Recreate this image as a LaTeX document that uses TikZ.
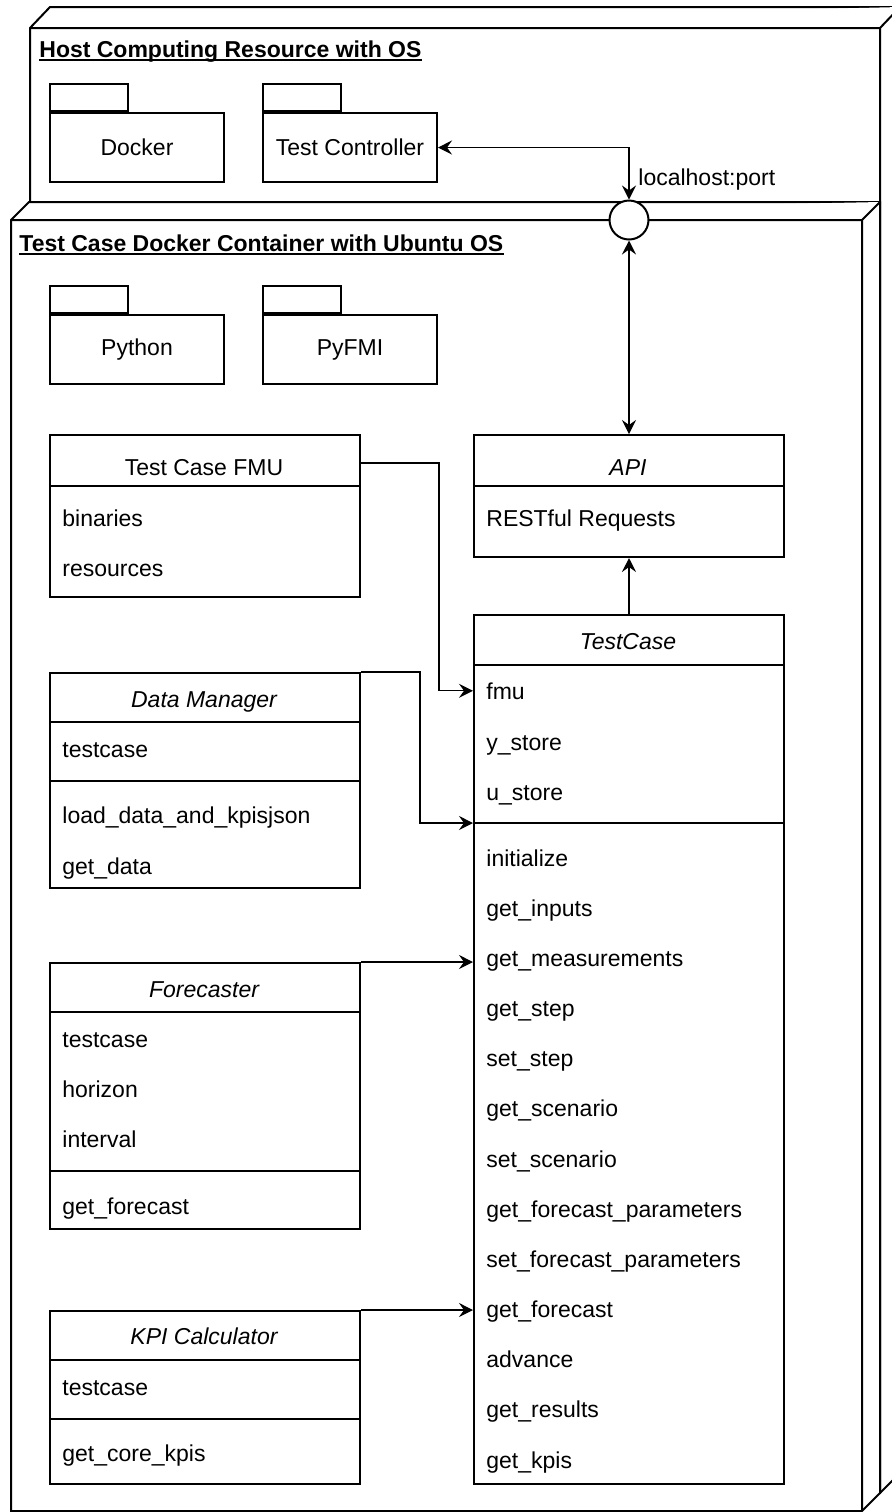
\documentclass[tikz,border=0pt]{standalone}
\usepackage{fontspec}
\setmainfont{Liberation Sans}
\usetikzlibrary{arrows.meta}
\newcommand\umlfont{\fontsize{11.5}{13.8}\selectfont}
\begin{document}
\begin{tikzpicture}[x=0.5pt,y=-0.5pt,font=\umlfont,
  >={Stealth[length=7pt,width=7pt,inset=2.5pt]},
  wall/.style={line width=1pt,fill=white},
  pkg/.style={draw,line width=1pt,fill=white,anchor=north west,minimum width=87pt,minimum height=34.5pt,inner sep=0},
  pkgtab/.style={draw,line width=1pt,fill=white,anchor=south west,minimum width=39pt,minimum height=13.5pt,inner sep=0},
  cls/.style={draw,line width=1pt,fill=white,anchor=north west,minimum width=155pt,inner sep=0},
  head/.style={anchor=base,inner sep=0,font=\umlfont\itshape},
  row/.style={anchor=base west,inner sep=0},
  title/.style={anchor=base west,inner sep=0,font=\umlfont\bfseries},
  bar/.style={line width=1pt},
  sep/.style={line width=0.6pt},
  link/.style={line width=0.6pt}]
\useasboundingbox (0,0) rectangle (892,1512);

\filldraw[wall] (30,28) -- (50,7) -- (900,7) -- (900,1473) -- (880,1493) -- (30,1493) -- cycle;
\draw[wall] (30,28) -- (880,28) -- (900,7) (880,28) -- (880,1493);
\node[title] (hosttitle) at (39,57) {Host Computing Resource with OS};
\draw[bar] ([yshift=-1.5pt]hosttitle.base west) -- ([yshift=-1.5pt]hosttitle.base east);

\node[pkg] (docker) at (49,112) {Docker};
\node[pkgtab] (dockertab) at (docker.north west) {};
\node[pkg] (tcpkg) at (262,112) {Test Controller};
\node[pkgtab] (tcpkgtab) at (tcpkg.north west) {};

\filldraw[wall] (11,220) -- (29,202) -- (880,202) -- (880,1493) -- (862,1511) -- (11,1511) -- cycle;
\draw[wall] (11,220) -- (862,220) -- (880,202) (862,220) -- (862,1511);
\node[title] (boxtitle) at (19,251) {Test Case Docker Container with Ubuntu OS};
\draw[bar] ([yshift=-1.5pt]boxtitle.base west) -- ([yshift=-1.5pt]boxtitle.base east);

\node[circle,draw,line width=1pt,fill=white,minimum size=19.5pt,inner sep=0] (port) at (629,220) {};
\node[row] (portlabel) at (638,185) {localhost:port};

\node[pkg] (python) at (49,314) {Python};
\node[pkgtab] (pythontab) at (python.north west) {};
\node[pkg] (pyfmi) at (262,314) {PyFMI};
\node[pkgtab] (pyfmitab) at (pyfmi.north west) {};

\node[cls,minimum height=81pt] (fmu) at (49,434) {};
\node[head,font=\umlfont] (fmuhead) at (204,475) {Test Case FMU};
\draw[bar] (49,486) -- (359,486);
\node[row] (fmubin) at (62,526) {binaries};
\node[row] (fmures) at (62,576) {resources};

\node[cls,minimum height=61pt] (api) at (473,434) {};
\node[head] (apihead) at (628,475) {API};
\draw[bar] (473,486) -- (783,486);
\node[row] (apirest) at (486,526) {RESTful Requests};

\node[cls,minimum height=434.5pt] (testcase) at (473,614) {};
\node[head] (tchead) at (628,649) {TestCase};
\draw[bar] (473,665) -- (783,665);
\node[row] (tcfmu) at (486,699) {fmu};
\node[row] (tcy) at (486,750) {y\_store};
\node[row] (tcu) at (486,800) {u\_store};
\coordinate (tcsep) at (473,823);
\draw[sep] (tcsep) -- (783,823);
\foreach \m [count=\i] in {initialize,get\_inputs,get\_measurements,get\_step,set\_step,get\_scenario,set\_scenario,get\_forecast\_parameters,set\_forecast\_parameters,get\_forecast,advance,get\_results,get\_kpis}
  \node[row] (tcm\i) at (486,{866+50.17*(\i-1)}) {\m};

\node[cls,minimum height=107.5pt] (dm) at (49,672) {};
\node[head] (dmhead) at (204,707) {Data Manager};
\draw[bar] (49,722) -- (359,722);
\node[row] (dmtc) at (62,757) {testcase};
\draw[sep] (49,781) -- (359,781);
\node[row] (dmload) at (62,823) {load\_data\_and\_kpisjson};
\node[row] (dmget) at (62,874) {get\_data};

\node[cls,minimum height=133pt] (fc) at (49,962) {};
\node[head] (fchead) at (204,997) {Forecaster};
\draw[bar] (49,1012) -- (359,1012);
\node[row] (fctc) at (62,1047) {testcase};
\node[row] (fchor) at (62,1097) {horizon};
\node[row] (fcint) at (62,1147) {interval};
\draw[sep] (49,1171) -- (359,1171);
\node[row] (fcget) at (62,1214) {get\_forecast};

\node[cls,minimum height=86.5pt] (kpi) at (49,1310) {};
\node[head] (kpihead) at (204,1344) {KPI Calculator};
\draw[bar] (49,1360) -- (359,1360);
\node[row] (kpitc) at (62,1395) {testcase};
\draw[sep] (49,1419) -- (359,1419);
\node[row] (kpiget) at (62,1461) {get\_core\_kpis};

\draw[link,<->] (tcpkg.east) -| (port.north);
\draw[link,<->] (port.south) -- (port.south |- api.north);
\draw[link,->] (testcase.north) -- (api.south);
\draw[link,->] ([yshift=-14.5pt]fmu.north east) -- ++(78,0) |- (testcase.west |- tcfmu);
\draw[link,->] (dm.north east) -- ++(59,0) |- (tcsep);
\draw[link,->] (fc.north east) -- (fc.north east -| testcase.west);
\draw[link,->] (kpi.north east) -- (kpi.north east -| testcase.west);
\end{tikzpicture}
\end{document}
